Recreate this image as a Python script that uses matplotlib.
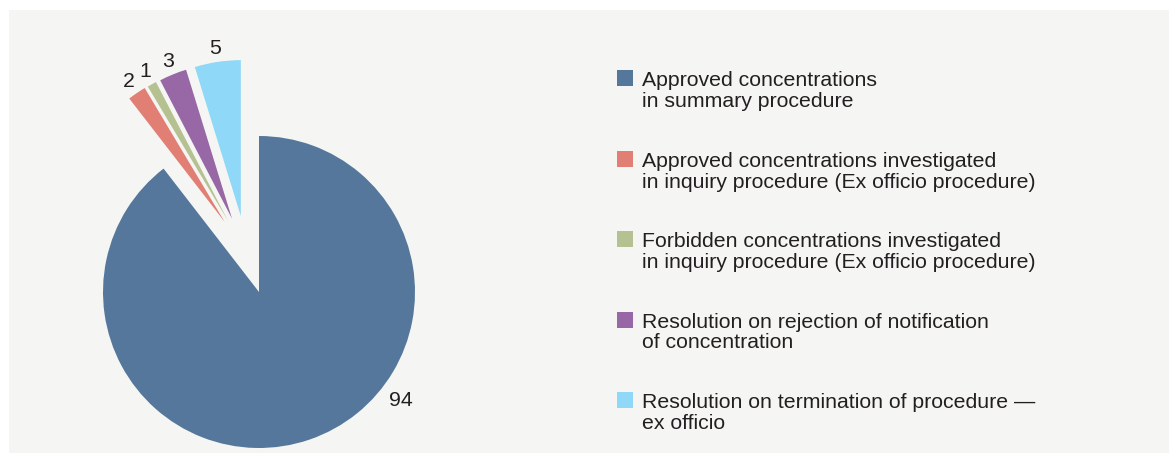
import numpy as np
import matplotlib
matplotlib.use("Agg")
import matplotlib.pyplot as plt
from matplotlib.patches import Rectangle

plt.rcParams['font.family'] = ['Liberation Sans', 'DejaVu Sans']

# concentration decisions, clockwise from 12 o'clock
categories = [
    "Approved concentrations\nin summary procedure",
    "Approved concentrations investigated\nin inquiry procedure (Ex officio procedure)",
    "Forbidden concentrations investigated\nin inquiry procedure (Ex officio procedure)",
    "Resolution on rejection of notification\nof concentration",
    "Resolution on termination of procedure \u2014\nex officio",
]
counts = [94, 2, 1, 3, 5]
colors = ["#56779c", "#e17f74", "#b6c192", "#9768a5", "#8fd8f7"]

W, H = 1169, 463
TEXT = "#231f20"
BG = "#f5f6f4"
R_PX = 156           # pie radius in pixels
CX, CY = 259, 292    # pie centre, pixels from top-left
LINE = 21.5          # legend line step in pixels
FS = 15.3


def fig_xy(x, y):
    # pixel position (from top-left) -> figure fraction
    return x / W, 1 - y / H


fig = plt.figure(figsize=(W / 100, H / 100), dpi=100, facecolor="white")
fig.patches.append(Rectangle(fig_xy(9, 453), (W - 9) / W, (453 - 10) / H,
                             transform=fig.transFigure, facecolor=BG,
                             edgecolor="none", zorder=-5))

ax = fig.add_axes([0, 0, 1, 1])
ax.set_facecolor("none")

wedges, _ = ax.pie(counts, colors=colors, startangle=90, counterclock=False,
                   radius=1, center=(0, 0), frame=True,
                   wedgeprops=dict(linewidth=0))
ax.set_xlim(-CX / R_PX, (W - CX) / R_PX)
ax.set_ylim(-(H - CY) / R_PX, CY / R_PX)
ax.axis("off")

# pull the small slices out as a fan, spreading them a little apart
fan_dir = 108.2
fan_spread = 0.49
fan_dist = 0.5
for i, w in enumerate(wedges):
    mid = ((w.theta1 + w.theta2) / 2) % 360
    if i == 0:
        cx, cy = 0.0, 0.0
        lab_ang, lab_r = -37.3, 1.145
    else:
        d = np.deg2rad(fan_dir + fan_spread * (mid - fan_dir))
        cx, cy = fan_dist * np.cos(d), fan_dist * np.sin(d)
        w.set_center((cx, cy))
        lab_ang, lab_r = mid, 1.09
    a = np.deg2rad(lab_ang)
    ax.text(cx + lab_r * np.cos(a), cy + lab_r * np.sin(a), str(counts[i]),
            ha="center", va="center", fontsize=FS, color=TEXT)

# legend: square keys aligned with the first line of each label
for i, (lab, col) in enumerate(zip(categories, colors)):
    top = 70 + i * 80.5
    x0, y0 = fig_xy(617, top + 16)
    fig.patches.append(Rectangle((x0, y0), 16 / W, 16 / H,
                                 transform=fig.transFigure, facecolor=col,
                                 edgecolor="none"))
    n_extra = lab.count("\n")
    tx, ty = fig_xy(642, top + 15.5 + n_extra * LINE)
    fig.text(tx, ty, lab, ha="left", va="baseline", fontsize=FS,
             color=TEXT, linespacing=1.12)

fig.savefig("out.png", dpi=100, facecolor="white")
